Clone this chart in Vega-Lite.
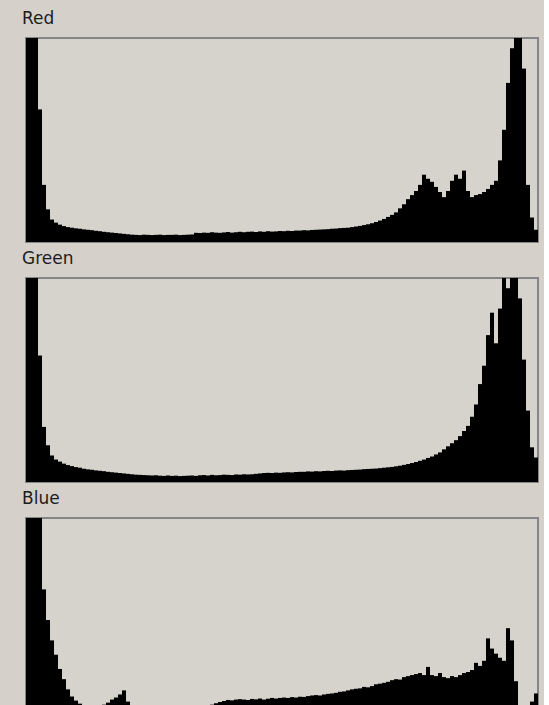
{
"$schema":"https://vega.github.io/schema/vega-lite/v6.json",
"background":"#d5d1ca",
"padding":{"left":21,"top":9,"right":5,"bottom":0},
"spacing":6,
"datasets":{
"red":[{"v":0,"n":300},{"v":2,"n":300},{"v":4,"n":150},{"v":6,"n":65},{"v":8,"n":28},{"v":10,"n":16},{"v":12,"n":11},{"v":14,"n":9.5},{"v":16,"n":8.5},{"v":18,"n":7.8},{"v":20,"n":7.3},{"v":22,"n":7},{"v":24,"n":6.7},{"v":26,"n":6.5},{"v":28,"n":6.2},{"v":30,"n":6},{"v":32,"n":5.8},{"v":34,"n":5.5},{"v":36,"n":5.3},{"v":38,"n":5},{"v":40,"n":4.8},{"v":42,"n":4.6},{"v":44,"n":4.4},{"v":46,"n":4.2},{"v":48,"n":4},{"v":50,"n":3.8},{"v":52,"n":3.6},{"v":54,"n":3.5},{"v":56,"n":3.4},{"v":58,"n":3.6},{"v":60,"n":3.5},{"v":62,"n":3.4},{"v":64,"n":3.5},{"v":66,"n":3.6},{"v":68,"n":3.4},{"v":70,"n":3.5},{"v":72,"n":3.5},{"v":74,"n":3.6},{"v":76,"n":3.4},{"v":78,"n":3.5},{"v":80,"n":3.6},{"v":82,"n":3.7},{"v":84,"n":4.5},{"v":86,"n":4.4},{"v":88,"n":4.6},{"v":90,"n":4.5},{"v":92,"n":4.8},{"v":94,"n":4.6},{"v":96,"n":4.5},{"v":98,"n":4.7},{"v":100,"n":4.9},{"v":102,"n":4.6},{"v":104,"n":4.8},{"v":106,"n":5.0},{"v":108,"n":4.8},{"v":110,"n":5.0},{"v":112,"n":5.1},{"v":114,"n":4.9},{"v":116,"n":5.2},{"v":118,"n":5.0},{"v":120,"n":5.3},{"v":122,"n":5.1},{"v":124,"n":5.2},{"v":126,"n":5.4},{"v":128,"n":5.3},{"v":130,"n":5.5},{"v":132,"n":5.4},{"v":134,"n":5.6},{"v":136,"n":5.6},{"v":138,"n":5.8},{"v":140,"n":5.7},{"v":142,"n":5.9},{"v":144,"n":6.0},{"v":146,"n":6.1},{"v":148,"n":6.2},{"v":150,"n":6.3},{"v":152,"n":6.5},{"v":154,"n":6.6},{"v":156,"n":6.8},{"v":158,"n":6.9},{"v":160,"n":7.0},{"v":162,"n":7.3},{"v":164,"n":7.6},{"v":166,"n":7.9},{"v":168,"n":8.3},{"v":170,"n":8.7},{"v":172,"n":9.2},{"v":174,"n":9.8},{"v":176,"n":10.5},{"v":178,"n":11.3},{"v":180,"n":12.3},{"v":182,"n":13.3},{"v":184,"n":14.5},{"v":186,"n":16.5},{"v":188,"n":18.5},{"v":190,"n":21},{"v":192,"n":23},{"v":194,"n":25},{"v":196,"n":28},{"v":198,"n":33},{"v":200,"n":31},{"v":202,"n":29.5},{"v":204,"n":27},{"v":206,"n":24.5},{"v":208,"n":22},{"v":210,"n":25},{"v":212,"n":30},{"v":214,"n":33},{"v":216,"n":31},{"v":218,"n":35},{"v":220,"n":25},{"v":222,"n":22},{"v":224,"n":23},{"v":226,"n":23.5},{"v":228,"n":24.5},{"v":230,"n":26},{"v":232,"n":28},{"v":234,"n":30},{"v":236,"n":40},{"v":238,"n":55},{"v":240,"n":78},{"v":242,"n":95},{"v":244,"n":130},{"v":246,"n":130},{"v":248,"n":85},{"v":250,"n":28},{"v":252,"n":12},{"v":254,"n":6}],
"green":[{"v":0,"n":300},{"v":2,"n":300},{"v":4,"n":300},{"v":6,"n":62},{"v":8,"n":27},{"v":10,"n":18},{"v":12,"n":13},{"v":14,"n":11},{"v":16,"n":10},{"v":18,"n":9},{"v":20,"n":8.3},{"v":22,"n":7.8},{"v":24,"n":7.3},{"v":26,"n":7},{"v":28,"n":6.5},{"v":30,"n":6.2},{"v":32,"n":6},{"v":34,"n":5.7},{"v":36,"n":5.5},{"v":38,"n":5.3},{"v":40,"n":5},{"v":42,"n":4.8},{"v":44,"n":4.6},{"v":46,"n":4.4},{"v":48,"n":4.2},{"v":50,"n":4},{"v":52,"n":3.8},{"v":54,"n":3.6},{"v":56,"n":3.5},{"v":58,"n":3.4},{"v":60,"n":3.3},{"v":62,"n":3.2},{"v":64,"n":3.3},{"v":66,"n":3.1},{"v":68,"n":3.0},{"v":70,"n":3.2},{"v":72,"n":3.0},{"v":74,"n":3.1},{"v":76,"n":2.9},{"v":78,"n":3.0},{"v":80,"n":3.1},{"v":82,"n":3.2},{"v":84,"n":3.0},{"v":86,"n":3.3},{"v":88,"n":3.4},{"v":90,"n":3.2},{"v":92,"n":3.5},{"v":94,"n":3.3},{"v":96,"n":3.4},{"v":98,"n":3.6},{"v":100,"n":3.5},{"v":102,"n":3.4},{"v":104,"n":3.7},{"v":106,"n":3.6},{"v":108,"n":3.8},{"v":110,"n":3.7},{"v":112,"n":3.8},{"v":114,"n":4.0},{"v":116,"n":4.2},{"v":118,"n":4.4},{"v":120,"n":4.5},{"v":122,"n":4.4},{"v":124,"n":4.6},{"v":126,"n":4.5},{"v":128,"n":4.7},{"v":130,"n":4.8},{"v":132,"n":4.7},{"v":134,"n":4.9},{"v":136,"n":5.0},{"v":138,"n":5.0},{"v":140,"n":5.2},{"v":142,"n":5.1},{"v":144,"n":5.3},{"v":146,"n":5.2},{"v":148,"n":5.4},{"v":150,"n":5.5},{"v":152,"n":5.4},{"v":154,"n":5.6},{"v":156,"n":5.7},{"v":158,"n":5.6},{"v":160,"n":5.8},{"v":162,"n":5.9},{"v":164,"n":6.0},{"v":166,"n":6.1},{"v":168,"n":6.3},{"v":170,"n":6.4},{"v":172,"n":6.5},{"v":174,"n":6.6},{"v":176,"n":6.8},{"v":178,"n":7.0},{"v":180,"n":7.2},{"v":182,"n":7.4},{"v":184,"n":7.7},{"v":186,"n":8.0},{"v":188,"n":8.4},{"v":190,"n":8.8},{"v":192,"n":9.3},{"v":194,"n":9.8},{"v":196,"n":10.4},{"v":198,"n":11.0},{"v":200,"n":11.8},{"v":202,"n":12.5},{"v":204,"n":13.5},{"v":206,"n":14.5},{"v":208,"n":16},{"v":210,"n":17.5},{"v":212,"n":19},{"v":214,"n":20.5},{"v":216,"n":22.5},{"v":218,"n":25},{"v":220,"n":27.5},{"v":222,"n":32},{"v":224,"n":38},{"v":226,"n":48},{"v":228,"n":57},{"v":230,"n":72},{"v":232,"n":83},{"v":234,"n":68},{"v":236,"n":85},{"v":238,"n":130},{"v":240,"n":95},{"v":242,"n":130},{"v":244,"n":130},{"v":246,"n":90},{"v":248,"n":60},{"v":250,"n":35},{"v":252,"n":17},{"v":254,"n":12}],
"blue":[{"v":0,"n":300},{"v":2,"n":300},{"v":4,"n":300},{"v":6,"n":300},{"v":8,"n":65},{"v":10,"n":50},{"v":12,"n":40},{"v":14,"n":33},{"v":16,"n":26},{"v":18,"n":21},{"v":20,"n":16},{"v":22,"n":12.5},{"v":24,"n":10.5},{"v":26,"n":9},{"v":28,"n":8},{"v":30,"n":7.5},{"v":32,"n":7.2},{"v":34,"n":7.5},{"v":36,"n":8},{"v":38,"n":8.5},{"v":40,"n":9.5},{"v":42,"n":11},{"v":44,"n":12},{"v":46,"n":13.5},{"v":48,"n":15.5},{"v":50,"n":10},{"v":52,"n":7},{"v":54,"n":6},{"v":56,"n":5.5},{"v":58,"n":5.2},{"v":60,"n":5.3},{"v":62,"n":5.4},{"v":64,"n":5.3},{"v":66,"n":5.5},{"v":68,"n":5.6},{"v":70,"n":5.8},{"v":72,"n":6.0},{"v":74,"n":6.3},{"v":76,"n":6.6},{"v":78,"n":6.9},{"v":80,"n":7.1},{"v":82,"n":7.3},{"v":84,"n":7.5},{"v":86,"n":7.6},{"v":88,"n":7.8},{"v":90,"n":8.0},{"v":92,"n":8.5},{"v":94,"n":9.2},{"v":96,"n":9.8},{"v":98,"n":10.3},{"v":100,"n":10.8},{"v":102,"n":10.6},{"v":104,"n":11.0},{"v":106,"n":11.2},{"v":108,"n":11.0},{"v":110,"n":10.8},{"v":112,"n":11.3},{"v":114,"n":11.1},{"v":116,"n":11.5},{"v":118,"n":11.0},{"v":120,"n":11.4},{"v":122,"n":11.8},{"v":124,"n":11.5},{"v":126,"n":11.8},{"v":128,"n":12.0},{"v":130,"n":11.8},{"v":132,"n":12.2},{"v":134,"n":12.0},{"v":136,"n":12.4},{"v":138,"n":12.3},{"v":140,"n":12.7},{"v":142,"n":13.0},{"v":144,"n":13.2},{"v":146,"n":13.0},{"v":148,"n":13.5},{"v":150,"n":13.8},{"v":152,"n":14.0},{"v":154,"n":14.3},{"v":156,"n":14.8},{"v":158,"n":15.0},{"v":160,"n":15.5},{"v":162,"n":16.0},{"v":164,"n":16.3},{"v":166,"n":16.5},{"v":168,"n":17.2},{"v":170,"n":17.0},{"v":172,"n":17.6},{"v":174,"n":18.5},{"v":176,"n":18.8},{"v":178,"n":19.2},{"v":180,"n":19.7},{"v":182,"n":20.5},{"v":184,"n":21.0},{"v":186,"n":20.8},{"v":188,"n":22},{"v":190,"n":22.5},{"v":192,"n":23.0},{"v":194,"n":23.5},{"v":196,"n":24.0},{"v":198,"n":23.0},{"v":200,"n":27},{"v":202,"n":23},{"v":204,"n":22.5},{"v":206,"n":24},{"v":208,"n":22},{"v":210,"n":21.5},{"v":212,"n":22.5},{"v":214,"n":22},{"v":216,"n":23},{"v":218,"n":24},{"v":220,"n":24.5},{"v":222,"n":25.5},{"v":224,"n":29},{"v":226,"n":27.5},{"v":228,"n":30},{"v":230,"n":41},{"v":232,"n":36},{"v":234,"n":33.5},{"v":236,"n":31.5},{"v":238,"n":30},{"v":240,"n":46},{"v":242,"n":40},{"v":244,"n":20},{"v":246,"n":6},{"v":248,"n":5},{"v":250,"n":7},{"v":252,"n":10},{"v":254,"n":14}]
},
"vconcat":[
{"title":"Red","data":{"name":"red"},"width":512,"height":204,
 "mark":{"type":"bar","color":"#000000","clip":true},
 "encoding":{"x":{"field":"v","type":"ordinal","axis":null,"scale":{"paddingInner":0,"paddingOuter":0,"round":true}},
 "y":{"field":"n","type":"quantitative","axis":null,"scale":{"domain":[0,100],"nice":false}}}},
{"title":"Green","data":{"name":"green"},"width":512,"height":204,
 "mark":{"type":"bar","color":"#000000","clip":true},
 "encoding":{"x":{"field":"v","type":"ordinal","axis":null,"scale":{"paddingInner":0,"paddingOuter":0,"round":true}},
 "y":{"field":"n","type":"quantitative","axis":null,"scale":{"domain":[0,100],"nice":false}}}},
{"title":"Blue","data":{"name":"blue"},"width":512,"height":204,
 "mark":{"type":"bar","color":"#000000","clip":true},
 "encoding":{"x":{"field":"v","type":"ordinal","axis":null,"scale":{"paddingInner":0,"paddingOuter":0,"round":true}},
 "y":{"field":"n","type":"quantitative","axis":null,"scale":{"domain":[0,100],"nice":false}}}}
],
"config":{
 "view":{"fill":"#d6d3cd","stroke":"#858585","strokeWidth":2},
 "title":{"font":"DejaVu Sans","fontSize":17,"fontWeight":"normal","color":"#1c1c1c","anchor":"start","offset":10,"dx":-4}
}
}
